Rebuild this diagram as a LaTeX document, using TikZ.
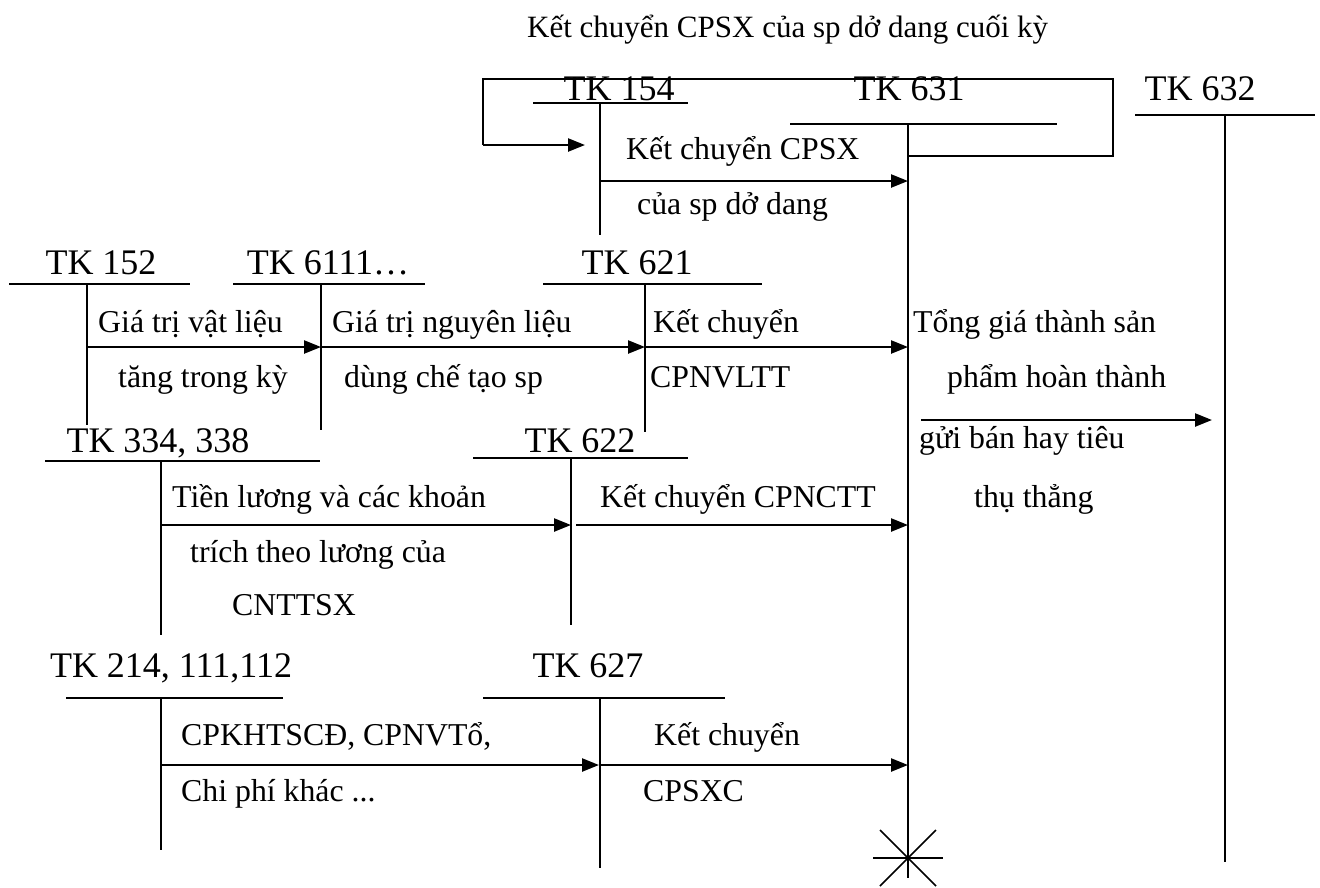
\documentclass[tikz,border=0pt]{standalone}
\usepackage{fontspec}
\setmainfont{Liberation Serif}
\usetikzlibrary{arrows.meta}
\begin{document}
\begin{tikzpicture}[x=1pt,y=-1pt,
  hd/.style={font=\fontsize{36}{40}\selectfont, inner sep=0pt, anchor=base},
  lb/.style={font=\fontsize{31.8}{36}\selectfont, inner sep=0pt, anchor=base west},
  tline/.style={line width=1.6pt},
  arr/.style={line width=2.4pt, -{Triangle[length=17pt,width=13pt]}}]
\useasboundingbox (0,0) rectangle (1320,887);
% title
\node[lb, font=\fontsize{31}{36}\selectfont] (title) at (527,37) {Kết chuyển CPSX của sp dở dang cuối kỳ};
% headings
\node[hd] (h154) at (619,100) {TK 154};
\node[hd] (h631) at (909,100) {TK 631};
\node[hd] (h632) at (1200,100) {TK 632};
\node[hd] (h152) at (101,274) {TK 152};
\node[hd] (h6111) at (328,274) {TK 6111…};
\node[hd] (h621) at (637,274) {TK 621};
\node[hd] (h334) at (158,452) {TK 334, 338};
\node[hd] (h622) at (580,452) {TK 622};
\node[hd] (h214) at (171,677) {TK 214, 111,112};
\node[hd] (h627) at (588,677) {TK 627};
% T-account coordinates
\coordinate (a154) at (600,103);  \coordinate (b154) at (600,235);
\coordinate (a631) at (908,124);  \coordinate (b631) at (908,878);
\coordinate (a632) at (1225,115); \coordinate (b632) at (1225,862);
\coordinate (a152) at (87,284);   \coordinate (b152) at (87,425);
\coordinate (a6111) at (321,284); \coordinate (b6111) at (321,430);
\coordinate (a621) at (645,284);  \coordinate (b621) at (645,432);
\coordinate (a334) at (161,461);  \coordinate (b334) at (161,635);
\coordinate (a622) at (571,458);  \coordinate (b622) at (571,625);
\coordinate (a214) at (161,698);  \coordinate (b214) at (161,850);
\coordinate (a627) at (600,698);  \coordinate (b627) at (600,868);
% T-accounts
\draw[tline] (533,103) -- (688,103);   \draw[tline] (a154) -- (b154);
\draw[tline] (790,124) -- (1057,124);  \draw[tline] (a631) -- (b631);
\draw[tline] (1135,115) -- (1315,115); \draw[tline] (a632) -- (b632);
\draw[tline] (9,284) -- (190,284);     \draw[tline] (a152) -- (b152);
\draw[tline] (233,284) -- (425,284);   \draw[tline] (a6111) -- (b6111);
\draw[tline] (543,284) -- (762,284);   \draw[tline] (a621) -- (b621);
\draw[tline] (45,461) -- (320,461);    \draw[tline] (a334) -- (b334);
\draw[tline] (473,458) -- (688,458);   \draw[tline] (a622) -- (b622);
\draw[tline] (66,698) -- (283,698);    \draw[tline] (a214) -- (b214);
\draw[tline] (483,698) -- (725,698);   \draw[tline] (a627) -- (b627);
% closing cross of TK 631
\draw[tline] (873,858) -- (943,858);
\draw[tline] (880,830) -- (936,886);
\draw[tline] (936,830) -- (880,886);
% loop arrow back to TK 154
\coordinate (l0) at (908,156);
\coordinate (l1) at (585,145);
\draw[tline] (l0) -- (1113,156) -- (1113,79) -- (483,79) -- (483,145);
\draw[arr] (483,145) -- (l1);
% row 1
\coordinate (r1s) at (600,181); \coordinate (r1e) at (908,181);
\draw[arr] (r1s) -- (r1e);
\node[lb] (t1a) at (626,159) {Kết chuyển CPSX};
\node[lb] (t1b) at (637,214) {của sp dở dang};
% row 2
\coordinate (r2a) at (87,347); \coordinate (r2b) at (321,347);
\coordinate (r2c) at (645,347); \coordinate (r2d) at (908,347);
\draw[arr] (r2a) -- (r2b);
\draw[arr] (r2b) -- (r2c);
\draw[arr] (r2c) -- (r2d);
\node[lb] (t2a) at (98,332) {Giá trị vật liệu};
\node[lb] (t2b) at (118,387) {tăng trong kỳ};
\node[lb] (t2c) at (332,332) {Giá trị nguyên liệu};
\node[lb] (t2d) at (344,387) {dùng chế tạo sp};
\node[lb] (t2e) at (653,332) {Kết chuyển};
\node[lb] (t2f) at (650,387) {CPNVLTT};
\node[lb] (t2g) at (913,332) {Tổng giá thành sản};
\node[lb] (t2h) at (947,387) {phẩm hoàn thành};
\coordinate (r5s) at (921,420); \coordinate (r5e) at (1212,420);
\draw[arr] (r5s) -- (r5e);
\node[lb] (t2i) at (919,448) {gửi bán hay tiêu};
\node[lb] (t2j) at (974,507) {thụ thẳng};
% row 3
\coordinate (r3a) at (161,525); \coordinate (r3b) at (571,525);
\coordinate (r3c) at (576,525); \coordinate (r3d) at (908,525);
\draw[arr] (r3a) -- (r3b);
\draw[arr] (r3c) -- (r3d);
\node[lb] (t3a) at (172,507) {Tiền lương và các khoản};
\node[lb] (t3b) at (190,562) {trích theo lương của};
\node[lb] (t3c) at (232,615) {CNTTSX};
\node[lb] (t3d) at (600,507) {Kết chuyển CPNCTT};
% row 4
\coordinate (r4a) at (161,765); \coordinate (r4b) at (599,765);
\coordinate (r4c) at (600,765); \coordinate (r4d) at (908,765);
\draw[arr] (r4a) -- (r4b);
\draw[arr] (r4c) -- (r4d);
\node[lb] (t4a) at (181,745) {CPKHTSCĐ, CPNVTổ,};
\node[lb] (t4b) at (181,801) {Chi phí khác ...};
\node[lb] (t4c) at (654,745) {Kết chuyển};
\node[lb] (t4d) at (643,801) {CPSXC};
\end{tikzpicture}
\end{document}
